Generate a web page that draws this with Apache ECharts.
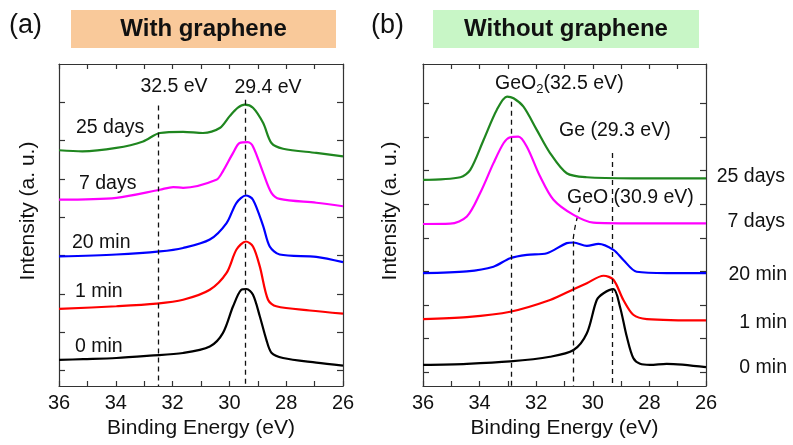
<!DOCTYPE html>
<html>
<head>
<meta charset="utf-8">
<script src="https://cdn.jsdelivr.net/npm/echarts@6/dist/echarts.min.js"></script>
<style>
html,body{margin:0;padding:0;background:#fff;}
#chart{width:793px;height:445px;}
</style>
</head>
<body>
<div id="chart"></div>
<script>
// ---------- Data (binding energy in eV, intensity in a.u. with offsets) ----------
// Panel (a): With graphene
const aBlackE = [36, 35.15, 33.98, 32.8, 31.63, 30.69, 30.23, 29.87, 29.58, 29.4, 29.17, 28.93, 28.7, 28.52, 28.11, 26.94, 26];
const aBlackI = [0.28, 0.30, 0.33, 0.39, 0.46, 0.63, 0.98, 1.68, 2.11, 2.13, 1.98, 1.42, 0.81, 0.47, 0.33, 0.21, 0.13];
const aRedE = [36, 33.98, 32.57, 31.63, 30.69, 30.1, 29.75, 29.42, 29.17, 28.93, 28.64, 28.35, 27.17, 26];
const aRedI = [1.61, 1.68, 1.75, 1.85, 2.11, 2.55, 3.16, 3.37, 3.24, 2.72, 1.85, 1.68, 1.57, 1.49];
const aBlueE = [36, 33.98, 32.45, 31.63, 30.69, 30.1, 29.75, 29.42, 29.17, 28.81, 28.58, 28.23, 26.94, 26];
const aBlueI = [2.98, 3.03, 3.11, 3.2, 3.42, 3.85, 4.38, 4.57, 4.46, 3.77, 3.24, 3.03, 2.97, 2.83];
const aMagE = [36, 33.98, 32.45, 31.98, 31.63, 30.46, 30.23, 29.87, 29.64, 29.35, 29.17, 28.81, 28.52, 28.23, 26.94, 26];
const aMagI = [4.46, 4.51, 4.72, 4.79, 4.77, 4.98, 5.2, 5.68, 5.94, 5.96, 5.85, 5.16, 4.64, 4.48, 4.38, 4.29];
const aGreenE = [36, 35.18, 33.98, 33.04, 32.45, 31.63, 30.93, 30.34, 29.99, 29.7, 29.46, 29.17, 28.81, 28.52, 28.11, 26.94, 26];
const aGreenI = [5.75, 5.72, 5.81, 5.98, 6.2, 6.23, 6.2, 6.33, 6.64, 6.86, 6.94, 6.86, 6.46, 5.94, 5.79, 5.68, 5.59];

// Panel (b): Without graphene
const bBlackE = [36, 34.45, 32.92, 31.51, 30.68, 30.21, 29.86, 29.62, 29.27, 29.04, 28.8, 28.57, 28.33, 27.98, 27.39, 26];
const bBlackI = [0.22, 0.25, 0.32, 0.46, 0.66, 1.16, 2.15, 2.35, 2.47, 1.95, 1.06, 0.42, 0.25, 0.22, 0.25, 0.15];
const bRedE = [36, 34.45, 32.92, 31.51, 30.68, 30.21, 29.62, 29.27, 28.92, 28.57, 28.09, 26];
const bRedI = [1.58, 1.64, 1.8, 2.15, 2.47, 2.65, 2.87, 2.75, 2.15, 1.71, 1.58, 1.54];
const bBlueE = [36, 34.45, 33.51, 32.92, 32.33, 31.62, 30.92, 30.68, 30.21, 29.8, 29.27, 28.92, 28.45, 27.39, 26];
const bBlueI = [2.95, 3.0, 3.14, 3.39, 3.49, 3.54, 3.84, 3.86, 3.76, 3.82, 3.64, 3.34, 2.99, 2.95, 2.95];
const bMagE = [36, 35.04, 34.45, 33.98, 33.51, 33.15, 32.92, 32.63, 32.33, 31.86, 31.39, 30.68, 29.98, 28.57, 26];
const bMagI = [4.41, 4.42, 4.63, 5.33, 6.22, 6.82, 6.99, 7.01, 6.71, 5.82, 5.13, 4.68, 4.45, 4.43, 4.43];
const bGreenE = [36, 34.68, 34.33, 33.86, 33.39, 33.03, 32.8, 32.45, 31.98, 31.51, 30.92, 30.21, 28.57, 26];
const bGreenI = [5.72, 5.8, 6.02, 6.91, 7.81, 8.2, 8.15, 7.9, 7.21, 6.52, 5.92, 5.8, 5.77, 5.77];

// Reference peak positions (dashed guides)
const aGuides = [[32.5, 6.92], [29.43, 7.07]];
const bGuides = [[32.89, 8.05], [30.7, 3.89], [29.32, 6.52]];
const bGeoCurve = [[30.45, 4.9], [30.62, 4.35], [30.7, 3.89]];

// Tick labels / axis
const xTickVals = [26, 28, 30, 32, 34, 36];
const aYTicks = [0, 1, 2, 3, 4, 5, 6, 7];
const bYTicks = [0, 1, 2, 3, 4, 5, 6, 7, 8];

const FONT = '"Liberation Sans", Arial, sans-serif';
const zip = (xs, ys) => xs.map((x, i) => [x, ys[i]]);

function xAxes(gridIndex) {
  return [
    {
      gridIndex, type: 'value', min: 26, max: 36, interval: 1, inverse: true,
      position: 'bottom',
      name: 'Binding Energy (eV)', nameLocation: 'middle', nameGap: 31,
      nameTextStyle: { fontFamily: FONT, fontSize: 21, color: '#111' },
      axisLine: { show: true, onZero: false, lineStyle: { color: '#333', width: 1.2 } },
      axisTick: { show: true, inside: true, length: 5, lineStyle: { color: '#333', width: 1.2 } },
      axisLabel: {
        fontFamily: FONT, fontSize: 20, color: '#111', margin: 7,
        formatter: v => (xTickVals.indexOf(v) >= 0 ? String(v) : '')
      },
      splitLine: { show: false }
    },
    {
      gridIndex, type: 'value', min: 26, max: 36, interval: 1, inverse: true,
      position: 'top',
      axisLine: { show: true, onZero: false, lineStyle: { color: '#333', width: 1.2 } },
      axisTick: { show: true, inside: true, length: 5, lineStyle: { color: '#333', width: 1.2 } },
      axisLabel: { show: false },
      splitLine: { show: false }
    }
  ];
}

function yAxes(gridIndex, min, max, ticks) {
  const common = {
    gridIndex, type: 'value', min, max,
    axisLine: { show: true, onZero: false, lineStyle: { color: '#333', width: 1.2 } },
    axisTick: { show: true, inside: true, length: 6, customValues: ticks, lineStyle: { color: '#333', width: 1.2 } },
    axisLabel: { show: false },
    splitLine: { show: false }
  };
  return [Object.assign({ position: 'left' }, common), Object.assign({ position: 'right' }, common)];
}

function curve(name, xi, yi, data, color) {
  return {
    name, type: 'line', xAxisIndex: xi, yAxisIndex: yi,
    data, showSymbol: false, symbol: 'none', smooth: 0.3,
    lineStyle: { color, width: 2.2 }, z: 3, silent: true
  };
}

function guideSeries(xi, yi, guides, bottom) {
  return {
    type: 'line', xAxisIndex: xi, yAxisIndex: yi, data: [], silent: true,
    markLine: {
      silent: true, symbol: ['none', 'none'], animation: false,
      label: { show: false },
      lineStyle: { color: '#111', type: [5, 4], width: 1.3 },
      data: guides.map(g => [{ coord: [g[0], g[1]] }, { coord: [g[0], bottom] }])
    }
  };
}

const aMin = -0.4, aMax = 8;
const bMin = -0.41, bMax = 9.17;

const option = {
  animation: false,
  backgroundColor: '#fff',
  grid: [
    { left: 59, top: 64, width: 284, height: 322 },
    { left: 423, top: 64, width: 283, height: 322 }
  ],
  xAxis: [...xAxes(0), ...xAxes(1)],
  yAxis: [...yAxes(0, aMin, aMax, aYTicks), ...yAxes(1, bMin, bMax, bYTicks)],
  series: [
    guideSeries(0, 0, aGuides, aMin),
    guideSeries(2, 2, bGuides, bMin),
    {
      type: 'line', xAxisIndex: 2, yAxisIndex: 2, data: bGeoCurve, smooth: 0.5,
      symbol: 'none', silent: true,
      lineStyle: { color: '#111', type: [5, 4], width: 1.3 }
    },
    curve('a 0 min', 0, 0, zip(aBlackE, aBlackI), '#000000'),
    curve('a 1 min', 0, 0, zip(aRedE, aRedI), '#ff0000'),
    curve('a 20 min', 0, 0, zip(aBlueE, aBlueI), '#0000ff'),
    curve('a 7 days', 0, 0, zip(aMagE, aMagI), '#ff00ff'),
    curve('a 25 days', 0, 0, zip(aGreenE, aGreenI), '#1f861f'),
    curve('b 0 min', 2, 2, zip(bBlackE, bBlackI), '#000000'),
    curve('b 1 min', 2, 2, zip(bRedE, bRedI), '#ff0000'),
    curve('b 20 min', 2, 2, zip(bBlueE, bBlueI), '#0000ff'),
    curve('b 7 days', 2, 2, zip(bMagE, bMagI), '#ff00ff'),
    curve('b 25 days', 2, 2, zip(bGreenE, bGreenI), '#1f861f')
  ],
  graphic: [
    // panel letters
    { type: 'text', left: 9, top: 12, style: { text: '(a)', font: '27px ' + FONT, fill: '#111' } },
    { type: 'text', left: 371, top: 12, style: { text: '(b)', font: '27px ' + FONT, fill: '#111' } },
    // title boxes
    { type: 'rect', shape: { x: 71, y: 10, width: 265, height: 38 }, style: { fill: '#f9c99a' } },
    { type: 'text', x: 203.5, y: 29.5, style: { text: 'With graphene', font: 'bold 24px ' + FONT, fill: '#111', align: 'center', verticalAlign: 'middle' } },
    { type: 'rect', shape: { x: 433, y: 10, width: 266, height: 38 }, style: { fill: '#c8f6c6' } },
    { type: 'text', x: 566, y: 29.5, style: { text: 'Without graphene', font: 'bold 24px ' + FONT, fill: '#111', align: 'center', verticalAlign: 'middle' } },
    // y titles
    { type: 'text', x: 28, y: 211, rotation: Math.PI / 2, style: { text: 'Intensity (a. u.)', font: '21px ' + FONT, fill: '#111', align: 'center', verticalAlign: 'middle' } },
    { type: 'text', x: 390, y: 211, rotation: Math.PI / 2, style: { text: 'Intensity (a. u.)', font: '21px ' + FONT, fill: '#111', align: 'center', verticalAlign: 'middle' } },
    // panel (a) annotations
    { type: 'text', x: 174, y: 87, style: { text: '32.5 eV', font: '19.5px ' + FONT, fill: '#111', align: 'center', verticalAlign: 'middle' } },
    { type: 'text', x: 268, y: 88, style: { text: '29.4 eV', font: '19.5px ' + FONT, fill: '#111', align: 'center', verticalAlign: 'middle' } },
    { type: 'text', x: 76, y: 128, style: { text: '25 days', font: '19.5px ' + FONT, fill: '#111', verticalAlign: 'middle' } },
    { type: 'text', x: 79, y: 184, style: { text: '7 days', font: '19.5px ' + FONT, fill: '#111', verticalAlign: 'middle' } },
    { type: 'text', x: 72, y: 243, style: { text: '20 min', font: '19.5px ' + FONT, fill: '#111', verticalAlign: 'middle' } },
    { type: 'text', x: 75, y: 292, style: { text: '1 min', font: '19.5px ' + FONT, fill: '#111', verticalAlign: 'middle' } },
    { type: 'text', x: 75, y: 347, style: { text: '0 min', font: '19.5px ' + FONT, fill: '#111', verticalAlign: 'middle' } },
    // panel (b) annotations
    { type: 'text', x: 495, y: 84, style: {
        text: 'GeO{s|2}(32.5 eV)', font: '19.5px ' + FONT, fill: '#111', verticalAlign: 'middle',
        rich: { s: { fontSize: 13, fontFamily: FONT, fill: '#111', padding: [10, 0, 0, 0] } }
      } },
    { type: 'text', x: 559, y: 131, style: { text: 'Ge (29.3 eV)', font: '19.5px ' + FONT, fill: '#111', verticalAlign: 'middle' } },
    { type: 'text', x: 567, y: 198, style: { text: 'GeO (30.9 eV)', font: '19.5px ' + FONT, fill: '#111', verticalAlign: 'middle' } },
    { type: 'text', x: 785, y: 177, style: { text: '25 days', font: '19.5px ' + FONT, fill: '#111', align: 'right', verticalAlign: 'middle' } },
    { type: 'text', x: 785, y: 222, style: { text: '7 days', font: '19.5px ' + FONT, fill: '#111', align: 'right', verticalAlign: 'middle' } },
    { type: 'text', x: 787, y: 275, style: { text: '20 min', font: '19.5px ' + FONT, fill: '#111', align: 'right', verticalAlign: 'middle' } },
    { type: 'text', x: 787, y: 323, style: { text: '1 min', font: '19.5px ' + FONT, fill: '#111', align: 'right', verticalAlign: 'middle' } },
    { type: 'text', x: 787, y: 368, style: { text: '0 min', font: '19.5px ' + FONT, fill: '#111', align: 'right', verticalAlign: 'middle' } }
  ]
};

const chart = echarts.init(document.getElementById('chart'), null, { renderer: 'canvas' });
chart.setOption(option);
</script>
</body>
</html>
